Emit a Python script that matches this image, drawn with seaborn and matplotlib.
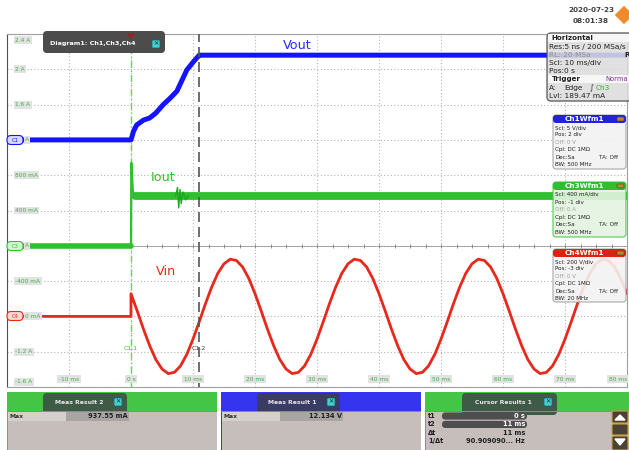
import numpy as np
import pandas as pd
import matplotlib
matplotlib.use("Agg")
import matplotlib.pyplot as plt
import seaborn as sns
from matplotlib.patches import FancyBboxPatch, Polygon, Rectangle

sns.set_theme(style="white")
plt.rcParams['font.family'] = ['DejaVu Sans']

# --- values ---
# Ch1 Vout (V) vs time (ms)
vout_t = [-20, 0, 0.4, 0.9, 2.0, 3.0, 4.0, 5.2, 6.3, 7.4, 8.2, 9.0, 10.0, 10.8, 11.0, 80]
vout_v = [0.0, 0.0, 1.2, 2.1, 2.8, 3.1, 3.8, 5.0, 5.9, 6.9, 8.4, 9.9, 11.0, 11.8, 12.0, 12.0]

# Ch3 Iout (A) vs time (ms)
iout_t = [-20, 0, 0.05, 0.3, 0.6, 80]
iout_a = [0.0, 0.0, 0.94, 0.62, 0.56, 0.56]
# short ringing burst around 8 ms
burst_t = [7.2, 7.5, 7.7, 7.9, 8.1, 8.4, 8.8, 9.3]
burst_a = [0.56, 0.66, 0.43, 0.64, 0.48, 0.61, 0.52, 0.57]

# Ch4 Vin (V): off before 0, then mains read every 1 ms
vin_t = [-20, -0.01] + list(range(0, 81))
vin_v = [0, 0,
         129, 31, -71, -165, -244, -298, -324, -317, -280, -215,
         -129, -31, 71, 165, 244, 298, 324, 317, 280, 215,
         129, 31, -71, -165, -244, -298, -324, -317, -280, -215,
         -129, -31, 71, 165, 244, 298, 324, 317, 280, 215,
         129, 31, -71, -165, -244, -298, -324, -317, -280, -215,
         -129, -31, 71, 165, 244, 298, 324, 317, 280, 215,
         129, 31, -71, -165, -244, -298, -324, -317, -280, -215,
         -129, -31, 71, 165, 244, 298, 324, 317, 280, 215,
         129]

y_ticks = [2.4, 2.0, 1.6, 1.2, 0.8, 0.4, 0.0, -0.4, -0.8, -1.2, -1.6]
y_labels = ['2.4 A', '2 A', '1.6 A', 'A', '800 mA', '400 mA', 'A',
            '-400 mA', '0 mA', '-1.2 A', '-1.6 A']
x_ticks = [-10, 0, 10, 20, 30, 40, 50, 60, 70, 80]
x_labels = ['-10 ms', '0 s', '10 ms', '20 ms', '30 ms', '40 ms', '50 ms',
            '60 ms', '70 ms', '80 ms']

ch1_info = ['Scl: 5 V/div', 'Pos: 2 div', 'Off: 0 V', 'Cpl: DC 1MΩ', 'Dec:Sa', 'BW: 500 MHz']
ch3_info = ['Scl: 400 mA/div', 'Pos: -1 div', 'Off: 0 A', 'Cpl: DC 1MΩ', 'Dec:Sa', 'BW: 500 MHz']
ch4_info = ['Scl: 200 V/div', 'Pos: -3 div', 'Off: 0 V', 'Cpl: DC 1MΩ', 'Dec:Sa', 'BW: 20 MHz']

BLUE = '#1414ff'
GREEN = '#2fbf2f'
RED = '#e8281a'


# screen positions of the channels (in Ch3 amps on the left axis)
def ch1_disp(v):
    return 1.2 + np.asarray(v) / 5 * 0.4


def ch4_disp(v):
    return -0.8 + np.asarray(v) / 200 * 0.4


vout = pd.DataFrame({'t': vout_t, 'y': ch1_disp(vout_v)})
iout = pd.DataFrame({'t': iout_t, 'y': iout_a})
burst = pd.DataFrame({'t': burst_t, 'y': burst_a})
vin = pd.DataFrame({'t': vin_t, 'y': ch4_disp(vin_v)})

W, H = 629, 450
fig = plt.figure(figsize=(W / 100, H / 100), dpi=100)
fig.patch.set_facecolor('white')

ax = fig.add_axes([7 / W, 1 - 387 / H, 620 / W, 353 / H])
ax.set_facecolor('white')
ax.set_xlim(-20, 80)
ax.set_ylim(-1.6, 2.4)
ax.set_xticks(np.arange(-20, 81, 10))
ax.set_yticks(np.arange(-1.6, 2.41, 0.4))
ax.set_xticks(np.arange(-20, 81, 5), minor=True)
ax.set_yticks(np.arange(-1.6, 2.41, 0.2), minor=True)
ax.grid(True, which='major', color='#b4b4b4', ls=(0, (1, 2)), lw=0.8)
ax.tick_params(which='both', labelleft=False, labelbottom=False, direction='in')
ax.tick_params(which='major', length=0)
ax.tick_params(which='minor', length=3, color='#707070', width=0.6)
for side, sp in ax.spines.items():
    sp.set_color('#505050' if side == 'left' else '#a0a0a0')
    sp.set_linewidth(0.8)

# centre axes through trigger point
ax.axhline(0, color='#9a9a9a', lw=0.6, zorder=1)
ax.plot(np.arange(-20, 81, 2.5), np.zeros(41), ls='none', marker='|', ms=3,
        color='#808080', mew=0.6, zorder=1)

# cursors
ax.axvline(0, color='#70cc70', lw=1.0, ls=(0, (5, 2, 1, 2)), zorder=2)
ax.axvline(11, color='#555555', lw=1.2, ls=(0, (6, 3)), zorder=6)

# traces
sns.lineplot(data=vin, x='t', y='y', ax=ax, color=RED, lw=2.0,
             estimator=None, sort=False, zorder=3)
sns.lineplot(data=iout.iloc[:2], x='t', y='y', ax=ax, color=GREEN, lw=4.0,
             estimator=None, sort=False, zorder=4)
sns.lineplot(data=iout.iloc[1:5], x='t', y='y', ax=ax, color=GREEN, lw=1.6,
             estimator=None, sort=False, zorder=4)
sns.lineplot(data=iout.iloc[4:], x='t', y='y', ax=ax, color=GREEN, lw=5.6,
             estimator=None, sort=False, zorder=4)
sns.lineplot(data=burst, x='t', y='y', ax=ax, color='#1fa81f', lw=1.0,
             estimator=None, sort=False, zorder=4)
sns.lineplot(data=vout, x='t', y='y', ax=ax, color=BLUE, lw=3.6,
             estimator=None, sort=False, zorder=5)
ax.set_xlabel('')
ax.set_ylabel('')

lab_box = dict(boxstyle='square,pad=0.25', fc='#e2e2e2', ec='none')
for yv, s in zip(y_ticks, y_labels):
    yy = yv
    if yv == 2.4:
        yy = 2.33
    elif yv == -1.6:
        yy = -1.54
    # labels partly hidden behind the channel markers start right of them
    x0 = 0.029 if yv in (1.2, 0.0, -0.8) else 0.013
    ax.text(x0, yy, s, transform=ax.get_yaxis_transform(), fontsize=4.2,
            color='#40b040', va='center', ha='left', bbox=lab_box, zorder=7)
for xv, s in zip(x_ticks, x_labels):
    ha = 'right' if xv == 80 else 'center'
    ax.text(xv, 0.022, s, transform=ax.get_xaxis_transform(), fontsize=4.2,
            color='#40b040', va='center', ha=ha, bbox=lab_box, zorder=7)

ax.text(0, -1.16, 'C1.1', fontsize=4.5, color='#40b040', ha='center', va='center', zorder=7)
ax.text(11, -1.16, 'C1.2', fontsize=4.5, color='#404040', ha='center', va='center', zorder=7)

ax.text(26.9, 2.275, 'Vout', fontsize=9.2, color='#2a2aff', ha='center', va='center', zorder=7)
ax.text(5.2, 0.77, 'Iout', fontsize=9.2, color=GREEN, ha='center', va='center', zorder=7)
ax.text(5.7, -0.29, 'Vin', fontsize=9.2, color=RED, ha='center', va='center', zorder=7)

# ---- screen furniture, drawn in pixel coordinates ----
ov = fig.add_axes([0, 0, 1, 1], zorder=10)
ov.set_xlim(0, W)
ov.set_ylim(H, 0)
ov.axis('off')
ov.patch.set_alpha(0)


def rbox(x0, y0, x1, y1, fc, ec='none', lw=0.0, r=2.0, alpha=1.0, z=1):
    ov.add_patch(FancyBboxPatch((x0, y0), x1 - x0, y1 - y0,
                                boxstyle=f'round,pad=0,rounding_size={r}',
                                fc=fc, ec=ec, lw=lw, alpha=alpha, zorder=z))


def txt(x, y, s, size=4.3, color='#202020', weight='normal', ha='left', z=5, **kw):
    ov.text(x, y, s, fontsize=size, color=color, fontweight=weight, ha=ha,
            va='center', zorder=z, **kw)


def xbox(x, y):
    rbox(x - 4, y - 4, x + 4, y + 4, '#40d0d0', ec='#206060', lw=0.5, r=1, z=6)
    txt(x, y, '✕', size=4.5, color='#103030', weight='bold', ha='center', z=7)


# diagram tab
rbox(43, 31, 165, 53, '#4c4c4c', r=4, z=2)
txt(50, 44, 'Diagram1: Ch1,Ch3,Ch4', size=4.6, color='white', weight='bold')
xbox(156, 44)
ov.add_patch(Polygon([(127, 33), (135, 33), (131, 41)], closed=True,
                     fc='#8a2a2a', ec='none', zorder=8))

# channel markers on the left edge
for yp, col, fc, s in [(140, BLUE, '#d8d8ff', 'C1'), (246, GREEN, '#d8f2d8', 'C3'),
                       (316, RED, '#f8d8d4', 'C4')]:
    rbox(7, yp - 4.5, 23, yp + 4.5, fc, ec=col, lw=0.8, r=4, z=4)
    txt(15, yp, s, size=3.8, color=col, ha='center', z=5)

# time stamp + logo
txt(591, 10, '2020-07-23', size=5.2, color='#404040', weight='bold', ha='center')
txt(591, 21, '08:01:38', size=5.2, color='#404040', weight='bold', ha='center')
ov.add_patch(Polygon([(624, 5), (634, 15), (624, 25), (614, 15)], closed=True,
                     fc='#f08a2a', ec='white', lw=0.8, zorder=3))

# horizontal / trigger panel
rbox(547, 33, 640, 101, '#dcdcdc', ec='#505050', lw=1.0, r=4, alpha=0.88, z=2)
ov.add_patch(Rectangle((548, 34), 90, 8, fc='#f6f6f6', ec='none', zorder=3))
ov.add_patch(Rectangle((548, 75), 90, 8, fc='#f6f6f6', ec='none', zorder=3))
HS = 5.3
txt(551, 38, 'Horizontal', size=5.1, weight='bold')
txt(549, 46.5, 'Res:5 ns / 200 MSa/s', size=HS)
txt(549, 55, 'RL: 20 MSa', size=HS, color='#909090')
txt(624, 55, 'R', size=HS, weight='bold')
txt(549, 63.5, 'Scl: 10 ms/div', size=HS)
txt(549, 71, 'Pos:0 s', size=HS)
txt(552, 79, 'Trigger', size=5.1, weight='bold')
txt(628, 79, 'Norma', size=4.9, color='#8a30a0', ha='right')
txt(549, 88, 'A:', size=HS)
txt(564, 88, 'Edge', size=HS)
txt(590, 88, '∫', size=HS)
txt(596, 88, 'Ch3', size=HS, color='#30b030')
txt(549, 96.5, 'Lvl: 189.47 mA', size=HS)


def ch_panel(y0, y1, title, head, body, edge, info):
    rbox(553, y0, 626, y1, body, ec=edge, lw=0.8, r=3, alpha=0.9, z=2)
    rbox(553, y0, 626, y0 + 8, head, r=3, z=3)
    txt(584, y0 + 4, title, size=5.2, color='white', weight='bold', ha='center')
    rbox(617, y0 + 2, 624, y0 + 6, '#b08a30', ec='#604010', lw=0.4, r=1, z=6)
    for i, s in enumerate(info):
        col = '#a0a0a0' if s.startswith('Off') else '#202020'
        txt(555, y0 + 12.5 + 7.5 * i, s, size=4.1, color=col)
    txt(599, y0 + 12.5 + 7.5 * 4, 'TA: Off', size=4.1)


ch_panel(115, 169, 'Ch1Wfm1', '#2222dd', '#f2f2f2', '#a0a0a0', ch1_info)
ch_panel(182, 237, 'Ch3Wfm1', '#33bb33', '#e4f4e0', '#44c444', ch3_info)
ch_panel(249, 302, 'Ch4Wfm1', '#dd2211', '#f2f2f2', '#a0a0a0', ch4_info)


# bottom result panels
def result_panel(x0, x1, head, tab, tab_x0, tab_x1, title):
    ov.add_patch(Rectangle((x0, 392), x1 - x0, 19, fc=head, ec='none', zorder=2))
    ov.add_patch(Rectangle((x0, 411), x1 - x0, 40, fc='#c6bebb', ec='none', zorder=2))
    ov.add_patch(Rectangle((x0, 392), 1.2, 58, fc=head, ec='none', zorder=3))
    rbox(tab_x0, 393, tab_x1, 415, tab, r=4, z=3)
    ov.add_patch(Rectangle((tab_x0, 405), tab_x1 - tab_x0, 6, fc=tab, ec='none', zorder=3))
    txt((tab_x0 + tab_x1) / 2 - 6, 402, title, size=4.4, color='#e8e8e8', weight='bold', ha='center')
    xbox(tab_x1 - 9, 402)
    ov.add_patch(Rectangle((x0, 411), x1 - x0, 0.8, fc='#8a8a8a', ec='none', zorder=3))


result_panel(7, 217, '#45c545', '#3f5a46', 43, 127, 'Meas Result 2')
result_panel(221, 421, '#3535f0', '#3b3c66', 257, 340, 'Meas Result 1')
result_panel(425, 629, '#45c545', '#3f5a46', 462, 557, 'Cursor Results 1')

for x0, val in [(8, '937.55 mA'), (222, '12.134 V')]:
    ov.add_patch(Rectangle((x0, 412), 58, 9, fc='#d6d0cd', ec='none', zorder=3))
    ov.add_patch(Rectangle((x0 + 58, 412), 63, 9, fc='#a9a5a3', ec='none', zorder=3))
    txt(x0 + 2, 416.5, 'Max', size=4.4, weight='bold', color='#303030')
    txt(x0 + 120, 416.5, val, size=4.8, weight='bold', color='#202020', ha='right')

cur_rows = ['t1', 't2', 'Δt', '1/Δt']
cur_vals = ['0 s', '11 ms', '11 ms', '90.909090... Hz']
for i, (name, val) in enumerate(zip(cur_rows, cur_vals)):
    yy = 416 + 8.4 * i
    txt(428, yy, name, size=4.8, weight='bold', color='#202020')
    if i < 2:
        rbox(442, yy - 3.6, 527, yy + 3.6, '#4e4e4e', r=3.5, z=3)
        txt(525, yy, val, size=4.8, weight='bold', color='white', ha='right')
    else:
        txt(525, yy, val, size=4.8, weight='bold', color='#202020', ha='right')

# scroll buttons
for y0, y1 in [(411, 423), (424, 435), (436, 450)]:
    rbox(612, y0, 628, y1, '#4b4236', ec='#c8a040', lw=0.8, r=1.5, z=3)
ov.add_patch(Polygon([(615, 420), (625, 420), (620, 415)], closed=True, fc='white', zorder=4))
ov.add_patch(Polygon([(615, 439), (625, 439), (620, 445)], closed=True, fc='white', zorder=4))
for yy in [427.5, 429.5, 431.5]:
    ov.add_patch(Rectangle((615, yy), 10, 0.6, fc='#c8c0b0', ec='none', zorder=4))

fig.savefig('out.png', dpi=100)
